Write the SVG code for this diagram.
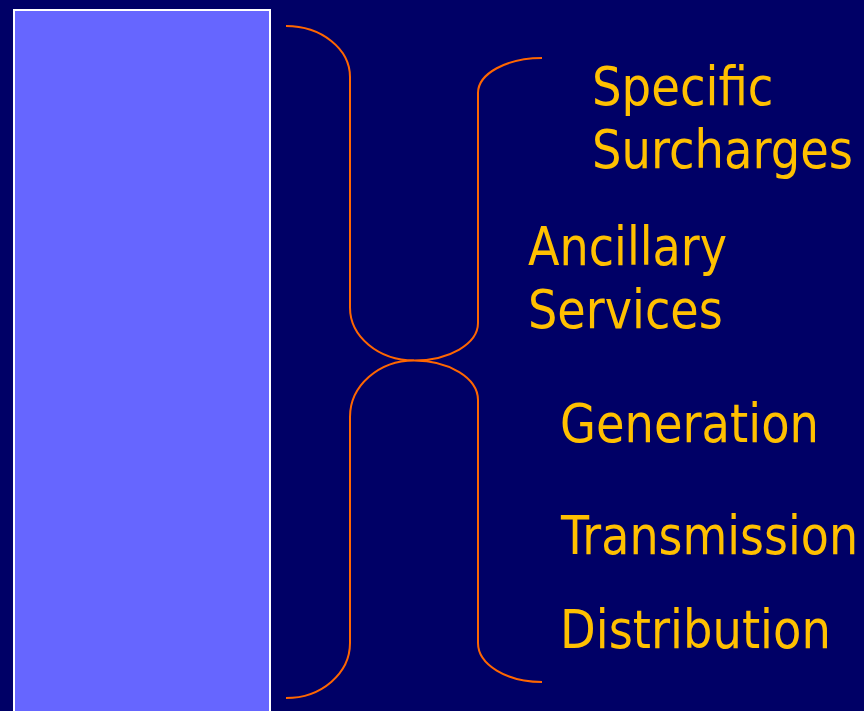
<svg xmlns="http://www.w3.org/2000/svg" width="864" height="711" viewBox="0 0 864 711">
<style>
.bg{fill:#000066}
.box{fill:#6666FF;stroke:#FFFFFF;stroke-width:2}
.brace{fill:none;stroke:#FF6600;stroke-width:2}
.lbl{font-family:"DejaVu Sans","Liberation Sans",sans-serif;font-size:53px;fill:#FFC000}
</style>
<rect class="bg" x="0" y="0" width="864" height="711"/>
<g id="bar"><rect class="box" x="14" y="10" width="256" height="710"/></g>
<g id="connectors">
<path class="brace" d="M286,26 A64,51 0 0 1 350,77 L350,307 A64,53 0 0 0 414,360.5 A64,56.5 0 0 0 350,417 L350,643 A64,55 0 0 1 286,698"/>
<path class="brace" d="M542,58 A64,35 0 0 0 478,93 L478,323 A64,37.5 0 0 1 414,360.5 A64,39.5 0 0 1 478,400 L478,643 A64,39 0 0 0 542,682"/>
</g>
<g id="specific"><text class="lbl" transform="translate(592,105) scale(0.88,1)">Specific</text><text class="lbl" transform="translate(592,168) scale(0.877,1)">Surcharges</text></g>
<g id="ancillary"><text class="lbl" transform="translate(528,265) scale(0.87,1)">Ancillary</text><text class="lbl" transform="translate(528,328) scale(0.872,1)">Services</text></g>
<g id="generation"><text class="lbl" transform="translate(560,442) scale(0.876,1)">Generation</text></g>
<g id="transmission"><text class="lbl" transform="translate(561,554) scale(0.868,1)">Transmission</text></g>
<g id="distribution"><text class="lbl" transform="translate(560,648) scale(0.876,1)">Distribution</text></g>
</svg>
